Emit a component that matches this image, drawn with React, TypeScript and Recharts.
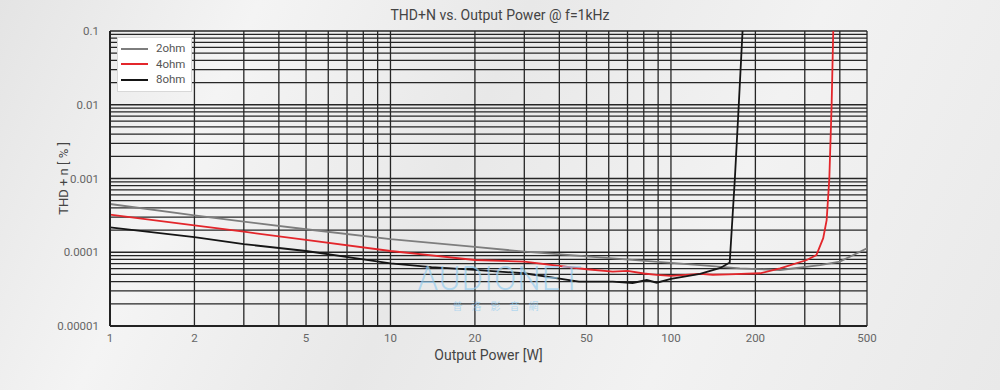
import { LineChart, Line, XAxis, YAxis, ReferenceLine, Legend } from 'recharts'

// output power [W] and THD+N [%]
const power2ohm = [1, 2, 3, 5, 10, 20, 30, 62, 127, 176, 245, 340, 400, 500]
const thd2ohm = [0.000451, 0.000316, 0.00026, 0.000205, 0.000151, 0.000118, 0.000102, 0.0000828, 0.0000671, 0.0000605, 0.0000575, 0.0000671, 0.0000745, 0.000113]

const power4ohm = [1, 2, 3, 5, 10, 20, 30, 50, 62, 70, 80, 89, 100, 127, 141, 160, 208, 245, 305, 330, 349, 359, 367, 374, 379]
const thd4ohm = [0.000323, 0.000232, 0.00019, 0.000147, 0.000104, 0.0000785, 0.0000745, 0.0000588, 0.0000545, 0.0000558, 0.0000515, 0.0000492, 0.0000478, 0.0000508, 0.0000495, 0.0000502, 0.0000519, 0.0000605, 0.0000785, 0.0000918, 0.000155, 0.000273, 0.001, 0.01, 0.1]

const power8ohm = [1, 2, 3, 5, 10, 14, 20, 30, 47, 62, 73, 82, 89, 100, 127, 150, 162, 169, 174.5, 180]
const thd8ohm = [0.000218, 0.00016, 0.000129, 0.000104, 0.0000708, 0.000063, 0.0000575, 0.0000519, 0.0000399, 0.0000399, 0.0000383, 0.000042, 0.0000386, 0.0000434, 0.0000508, 0.0000613, 0.0000728, 0.001, 0.01, 0.1]

const xTicks = [1, 2, 5, 10, 20, 50, 100, 200, 500]
const yTicks = [0.00001, 0.0001, 0.001, 0.01, 0.1]
const xGrid = [1, 2, 3, 4, 5, 6, 7, 8, 9, 10, 20, 30, 40, 50, 60, 70, 80, 90, 100, 200, 300, 400, 500]
const yGrid = [
  0.00001, 0.00002, 0.00003, 0.00004, 0.00005, 0.00006, 0.00007, 0.00008, 0.00009,
  0.0001, 0.0002, 0.0003, 0.0004, 0.0005, 0.0006, 0.0007, 0.0008, 0.0009,
  0.001, 0.002, 0.003, 0.004, 0.005, 0.006, 0.007, 0.008, 0.009,
  0.01, 0.02, 0.03, 0.04, 0.05, 0.06, 0.07, 0.08, 0.09, 0.1,
]

const series = [
  { name: '2ohm', color: '#7d7d7d', data: power2ohm.map((p, i) => ({ p, thd: thd2ohm[i] })) },
  { name: '4ohm', color: '#e3262b', data: power4ohm.map((p, i) => ({ p, thd: thd4ohm[i] })) },
  { name: '8ohm', color: '#151515', data: power8ohm.map((p, i) => ({ p, thd: thd8ohm[i] })) },
]

const font = 'Roboto, "DejaVu Sans", sans-serif'
const gridColor = '#262626'

function LegendBox() {
  return (
    <div style={{
      background: '#fff', border: '1px solid #d8d8d8', padding: '3px 6px 3px 3px',
      fontFamily: font, fontSize: 11.5, color: '#555', lineHeight: '15.5px',
    }}>
      {series.map((s) => (
        <div key={s.name} style={{ display: 'flex', alignItems: 'center' }}>
          <span style={{ display: 'inline-block', width: 27, height: 2, background: s.color, marginRight: 8 }} />
          {s.name}
        </div>
      ))}
    </div>
  )
}

export default function App() {
  return (
    <div style={{
      position: 'relative', width: 1000, height: 390, overflow: 'hidden',
      background: 'linear-gradient(115deg, #e4e4e4 0%, #f4f4f4 22%, #e8e8e8 45%, #f2f2f2 70%, #e9e9e9 100%)',
    }}>
      <style>{'body{margin:0}'}</style>
      <div style={{
        position: 'absolute', top: 7, left: 0, width: 1000, textAlign: 'center',
        fontFamily: font, fontSize: 14, color: '#444',
      }}>
        THD+N vs. Output Power @ f=1kHz
      </div>
      <div style={{
        position: 'absolute', left: 400, top: 262, width: 200, textAlign: 'center',
        fontFamily: 'Roboto, "Open Sans", sans-serif', fontWeight: 300, fontSize: 33, lineHeight: '34px',
        letterSpacing: 1, color: 'rgba(150, 205, 240, 0.7)', pointerEvents: 'none', zIndex: 2,
      }}>
        AUDIONET
      </div>
      <div style={{
        position: 'absolute', left: 405, top: 300, width: 190, textAlign: 'center',
        fontFamily: '"Noto Sans CJK TC", sans-serif', fontSize: 10, lineHeight: '12px', letterSpacing: 9,
        color: 'rgba(150, 205, 240, 0.7)', pointerEvents: 'none', zIndex: 2,
      }}>
        普洛影音網
      </div>
      <LineChart
        width={1000}
        height={390}
        margin={{ top: 31, right: 133, bottom: 20, left: 40 }}
      >
        <XAxis
          type="number"
          dataKey="p"
          scale="log"
          domain={[1, 500]}
          allowDataOverflow
          ticks={xTicks}
          height={44}
          tickLine={false}
          axisLine={{ stroke: '#222', strokeWidth: 2 }}
          tick={{ fontSize: 11.5, fill: '#666', fontFamily: font }}
          tickMargin={2}
          label={{ value: 'Output Power [W]', position: 'insideBottom', offset: 10, fontSize: 14, fill: '#444', fontFamily: font }}
        />
        <YAxis
          type="number"
          dataKey="thd"
          scale="log"
          domain={[0.00001, 0.1]}
          allowDataOverflow
          ticks={yTicks}
          width={70}
          tickLine={false}
          axisLine={{ stroke: '#222', strokeWidth: 2 }}
          tick={{ fontSize: 11.5, fill: '#666', fontFamily: font }}
          tickMargin={5}
          label={{ value: 'THD + n [ % ]', angle: -90, position: 'insideLeft', offset: 23, textAnchor: 'middle', fontSize: 13, fill: '#444', fontFamily: font }}
        />
        {yGrid.map((v) => (
          <ReferenceLine key={'h' + v} y={v} stroke={gridColor} strokeWidth={1.3} ifOverflow="visible" />
        ))}
        {xGrid.map((v) => (
          <ReferenceLine key={'v' + v} x={v} stroke={gridColor} strokeWidth={1.3} ifOverflow="visible" />
        ))}
        <Legend
          layout="vertical"
          align="center"
          verticalAlign="middle"
          content={() => <LegendBox />}
          wrapperStyle={{ top: 37, left: 117, width: 'auto' }}
        />
        {series.map((s) => (
          <Line
            key={s.name}
            data={s.data}
            dataKey="thd"
            name={s.name}
            type="linear"
            stroke={s.color}
            strokeWidth={1.8}
            dot={false}
            isAnimationActive={false}
          />
        ))}
      </LineChart>
    </div>
  )
}
